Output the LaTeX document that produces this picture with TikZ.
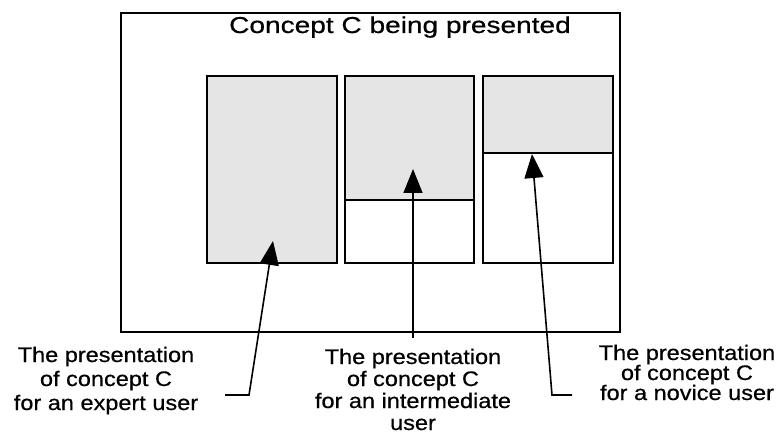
\documentclass[tikz,border=0pt]{standalone}
\usepackage{fontspec}
\usetikzlibrary{arrows.meta}
\newfontfamily\headfont[FakeStretch=1.22,FakeBold=0.6]{Liberation Sans}
\newfontfamily\notefont[FakeStretch=1.12,FakeBold=0.6]{Liberation Sans}
\begin{document}
\begin{tikzpicture}[x=1pt,y=-1pt,
  frame/.style={draw=black,line width=1.6pt},
  panel/.style={draw=black,line width=2.2pt},
  shaded/.style={fill=black!10},
  pointer/.style={draw=black,line width=1.6pt,-{Triangle[length=24pt,width=19pt]}},
  note/.style={align=center,anchor=base,inner sep=0pt}]
\useasboundingbox (0,0) rectangle (780,441);

% outer window
\draw[frame] (121,13) rectangle (620,332);
\node[font=\headfont\fontsize{23}{26}\selectfont,anchor=base,inner sep=0pt] (title) at (400,33) {Concept C being presented};

% three presentation panels
\path[shaded] (207,76) rectangle (337,263);
\draw[panel,line width=2.6pt] (207,76) rectangle (337,263);

\path[shaded] (345,76) rectangle (474,200);
\draw[panel] (345,76) rectangle (474,263);
\draw[panel,line width=1.8pt] (345,200) -- (474,200);

\path[shaded] (483,76) rectangle (613,153);
\draw[panel] (483,76) rectangle (613,263);
\draw[panel,line width=1.8pt] (483,153) -- (613,153);

% arrow targets and bends
\coordinate (t1) at (273,241);
\coordinate (k1) at (249,395);
\coordinate (e1) at (225,395);
\coordinate (t2) at (413,169);
\coordinate (e2) at (413,338);
\coordinate (t3) at (532,154);
\coordinate (k3) at (552,395);
\coordinate (e3) at (572,395);

% captions (anchored at the baseline of the last line)
\node[note,font=\notefont\fontsize{21}{24}\selectfont] (expert) at (106,410) {The presentation\\of concept C\\for an expert user};
\node[note,font=\notefont\fontsize{21}{22}\selectfont] (inter) at (413,430) {The presentation\\of concept C\\for an intermediate\\user};
\node[note,font=\notefont\fontsize{21}{20}\selectfont] (novice) at (687,400) {The presentation\\of concept C\\for a novice user};

% leader arrows
\draw[pointer] (e1) -- (k1) -- (t1);
\draw[pointer] (e2) -- (t2);
\draw[pointer] (e3) -- (k3) -- (t3);
\end{tikzpicture}
\end{document}
